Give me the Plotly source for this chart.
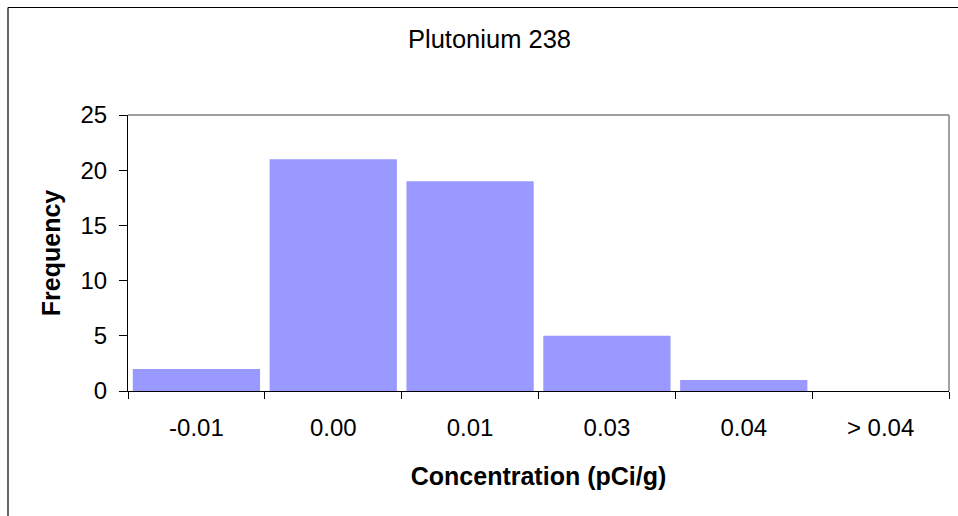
import plotly.graph_objects as go

categories = ["-0.01", "0.00", "0.01", "0.03", "0.04", "> 0.04"]
frequency = [2, 21, 19, 5, 1, 0]
y_ticks = [0, 5, 10, 15, 20, 25]

W, H = 958, 516
L, R, T, B = 128, 9, 115, 125
pw, ph = W - L - R, H - T - B

fig = go.Figure(go.Bar(x=categories, y=frequency, marker=dict(color="#9999FF", line=dict(width=0))))

font = "Liberation Sans, Arial, sans-serif"
fig.update_layout(
    width=W, height=H,
    margin=dict(l=L, r=R, t=T, b=B),
    paper_bgcolor="white", plot_bgcolor="white",
    bargap=0.07,
    showlegend=False,
    font=dict(family=font, size=24, color="black"),
    title=dict(text="Plutonium 238", x=489.5 / W, xanchor="center", y=1 - 39 / H, yanchor="middle",
               font=dict(size=25.5, family=font)),
)
fig.update_xaxes(
    type="category", showline=True, linecolor="black", linewidth=1,
    ticks="outside", tickson="boundaries", ticklen=7, tickcolor="black",
    showgrid=False, zeroline=False, ticklabelstandoff=15,
    tickfont=dict(size=24),
    title=dict(text="<b>Concentration (pCi/g)</b>", standoff=27, font=dict(size=25)),
)
fig.update_yaxes(
    range=[0, 25], tickvals=y_ticks, showline=True, linecolor="black", linewidth=1,
    ticks="outside", ticklen=8, tickcolor="black",
    showgrid=False, zeroline=False, ticklabelstandoff=7,
    tickfont=dict(size=24),
    title=dict(text="<b>Frequency</b>", standoff=12, font=dict(size=25)),
)

# plot area top/right border in gray
fig.add_shape(type="line", xref="paper", yref="paper", x0=0, x1=1, y0=1, y1=1, line=dict(color="#808080", width=1.5))
fig.add_shape(type="line", xref="paper", yref="paper", x0=1, x1=1, y0=0, y1=1, line=dict(color="#808080", width=1.5))

# outer chart frame (left and top edges visible)
fx = (8 - L) / pw
fy = 1 + (T - 7.5) / ph
fig.add_shape(type="line", xref="paper", yref="paper", x0=fx, x1=fx, y0=fy, y1=-2, line=dict(color="black", width=1.2))
fig.add_shape(type="line", xref="paper", yref="paper", x0=fx, x1=2, y0=fy, y1=fy, line=dict(color="black", width=1.2))

fig.write_html("out.html", config={"displayModeBar": False},
               post_script="document.body.style.margin='0';document.body.style.overflow='hidden';")
